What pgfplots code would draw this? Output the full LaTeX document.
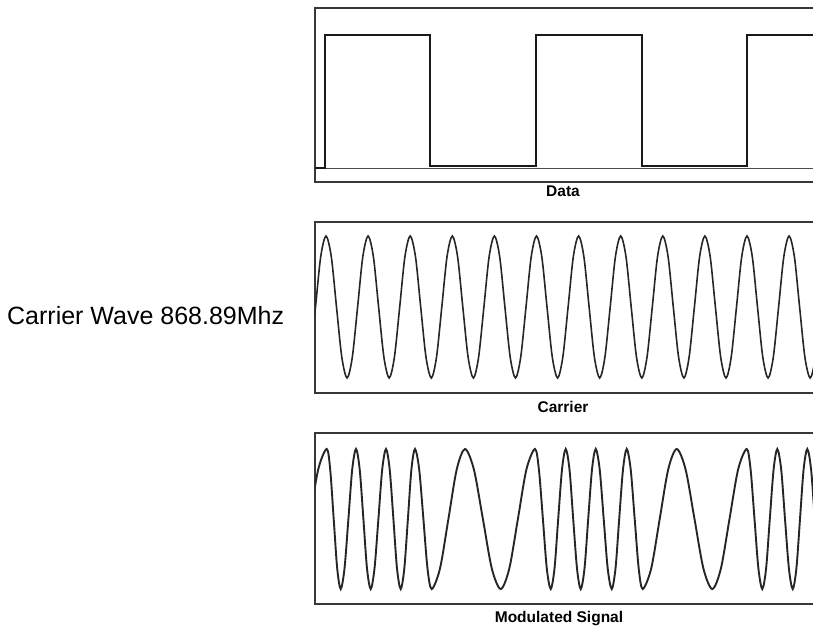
\documentclass[border=0pt]{standalone}
\usepackage{pgfplots}
\pgfplotsset{compat=1.18}
\usepackage{fontspec}
\setmainfont{Liberation Sans}

\pgfplotsset{
  panel/.style={
    scale only axis, anchor=south west,
    width=500bp, xmin=315, xmax=815, ymin=0,
    ticks=none, clip=true,
    axis line style={line width=2.6bp, black!78},
  },
  wave/.style={black!85, line width=1.6bp, smooth, no markers},
}

\begin{document}
\begin{tikzpicture}
\useasboundingbox (0,0) rectangle (813bp,628bp);
\clip (0,0) rectangle (813bp,628bp);

% Data
\begin{axis}[panel, at={(315bp,446bp)}, height=174bp, ymax=174]
\addplot[black!70, line width=1bp, no markers] coordinates {(315,13.5) (815,13.5)};
\addplot[black!90, line width=2.1bp, sharp plot, no markers, line join=miter] coordinates {
(315,14) (325,14) (325,147) (430,147) (430,16) (536,16) (536,147)
(642,147) (642,16) (747,16) (747,147) (815,147)};
\end{axis}

% Carrier
\begin{axis}[panel, at={(315bp,235bp)}, height=171bp, ymax=171]
\addplot[wave, line width=1.6bp] coordinates {
(310.2,35.8)(315.5,86)(320.7,136.2)
(326.0,157)(331.3,136.2)(336.5,86)(341.8,35.8)(347.1,15)(352.3,35.8)(357.6,86)(362.8,136.2)
(368.1,157)(373.4,136.2)(378.6,86)(383.9,35.8)(389.2,15)(394.4,35.8)(399.7,86)(404.9,136.2)
(410.2,157)(415.5,136.2)(420.7,86)(426.0,35.8)(431.3,15)(436.5,35.8)(441.8,86)(447.0,136.2)
(452.3,157)(457.6,136.2)(462.8,86)(468.1,35.8)(473.4,15)(478.6,35.8)(483.9,86)(489.1,136.2)
(494.4,157)(499.7,136.2)(504.9,86)(510.2,35.8)(515.5,15)(520.7,35.8)(526.0,86)(531.2,136.2)
(536.5,157)(541.8,136.2)(547.0,86)(552.3,35.8)(557.6,15)(562.8,35.8)(568.1,86)(573.3,136.2)
(578.6,157)(583.9,136.2)(589.1,86)(594.4,35.8)(599.7,15)(604.9,35.8)(610.2,86)(615.4,136.2)
(620.7,157)(626.0,136.2)(631.2,86)(636.5,35.8)(641.8,15)(647.0,35.8)(652.3,86)(657.5,136.2)
(662.8,157)(668.1,136.2)(673.3,86)(678.6,35.8)(683.9,15)(689.1,35.8)(694.4,86)(699.6,136.2)
(704.9,157)(710.2,136.2)(715.4,86)(720.7,35.8)(726.0,15)(731.2,35.8)(736.5,86)(741.7,136.2)
(747.0,157)(752.3,136.2)(757.5,86)(762.8,35.8)(768.1,15)(773.3,35.8)(778.6,86)(783.8,136.2)
(789.1,157)(794.4,136.2)(799.6,86)(804.9,35.8)(810.2,15)(815.4,35.8)(820.7,86)(825.9,136.2)};
\end{axis}

% Modulated signal
\begin{axis}[panel, at={(315bp,24bp)}, height=171bp, ymax=171]
\addplot[wave, line width=1.9bp] coordinates {
(292.7,15)(301.2,35.5)(309.7,85)(318.2,134.5)(326.7,155)
(330.2,134.5)(333.7,85)(337.2,35.5)(340.7,15)
(344.5,35.5)(348.4,85)(352.2,134.5)(356.0,155)
(359.7,134.5)(363.4,85)(367.0,35.5)(370.7,15)
(374.5,35.5)(378.4,85)(382.2,134.5)(386.0,155)
(389.7,134.5)(393.4,85)(397.0,35.5)(400.7,15)
(404.3,35.5)(407.9,85)(411.4,134.5)(415.0,155)
(419.2,134.5)(423.4,85)(427.5,35.5)(431.7,15)
(440.0,35.5)(448.4,85)(456.7,134.5)(465.0,155)
(473.9,134.5)(482.9,85)(491.8,35.5)(500.7,15)
(509.3,35.5)(517.9,85)(526.4,134.5)(535.0,155)
(538.9,134.5)(542.9,85)(546.8,35.5)(550.7,15)
(554.5,35.5)(558.2,85)(562.0,134.5)(565.7,155)
(569.5,134.5)(573.2,85)(577.0,35.5)(580.7,15)
(584.5,35.5)(588.2,85)(592.0,134.5)(595.7,155)
(599.7,134.5)(603.7,85)(607.7,35.5)(611.7,15)
(615.5,35.5)(619.2,85)(623.0,134.5)(626.7,155)
(630.7,134.5)(634.7,85)(638.7,35.5)(642.7,15)
(651.2,35.5)(659.7,85)(668.2,134.5)(676.7,155)
(685.6,134.5)(694.5,85)(703.4,35.5)(712.3,15)
(720.9,35.5)(729.5,85)(738.1,134.5)(746.7,155)
(750.6,134.5)(754.5,85)(758.4,35.5)(762.3,15)
(766.1,35.5)(769.8,85)(773.6,134.5)(777.3,155)
(781.2,134.5)(785.0,85)(788.9,35.5)(792.7,15)
(796.4,35.5)(800.0,85)(803.6,134.5)(807.3,155)
(811.1,134.5)(814.8,85)(818.6,35.5)(822.3,15)};
\end{axis}

% labels
\begin{scope}[every node/.style={font=\fontsize{15.5bp}{18bp}\selectfont\bfseries, inner sep=0pt}]
\node at (563bp,436.5bp) {Data};
\node at (563bp,221bp) {Carrier};
\node at (559bp,9bp) {Modulated Signal};
\end{scope}
\node[anchor=base west, inner sep=0pt, font=\fontsize{25bp}{30bp}\selectfont] at (7bp,303bp) {Carrier Wave 868.89Mhz};
\end{tikzpicture}
\end{document}
